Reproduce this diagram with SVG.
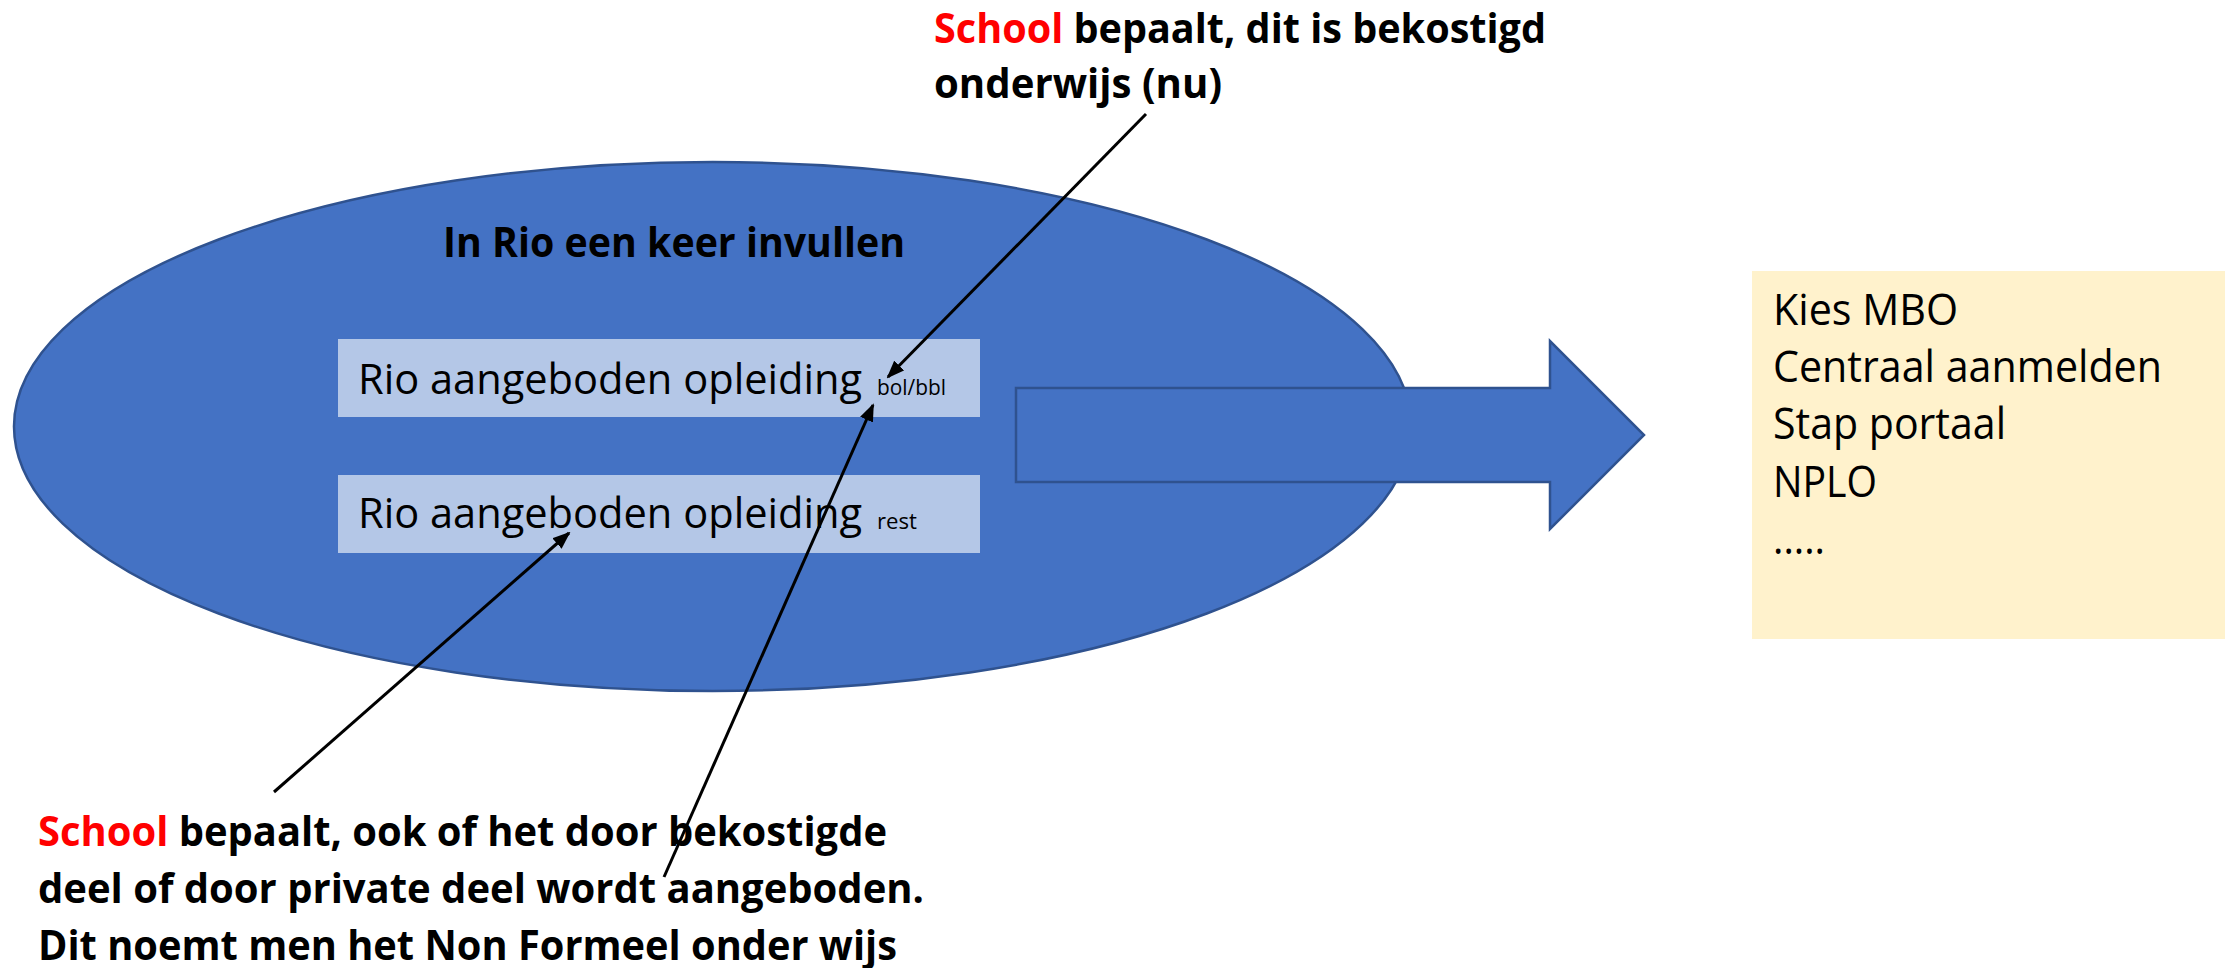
<svg xmlns="http://www.w3.org/2000/svg" width="2225" height="968" viewBox="0 0 2225 968">
<style>
.t{font-family:"Open Sans","Liberation Sans",sans-serif;fill:#000}
.b{font-weight:bold}
.red{fill:#FF0000}
.blue{fill:#4472C4;stroke:#2F528F;stroke-width:2.5}
.opt{fill:#B4C7E7}
.conn{stroke:#000;stroke-width:3;fill:none}
</style>
<defs>
<marker id="ah" markerUnits="userSpaceOnUse" viewBox="0 0 18 14" refX="16" refY="7" markerWidth="18" markerHeight="14" orient="auto">
<path d="M0,0 L18,7 L0,14 Z" fill="#000"/>
</marker>
</defs>
<rect width="2225" height="968" fill="#FFFFFF"/>
<g id="rio-ellipse">
<ellipse class="blue" cx="712.7" cy="426.5" rx="698.7" ry="264.5"/>
<text class="t b" x="443" y="257" font-size="42" textLength="462" lengthAdjust="spacingAndGlyphs">In Rio een keer invullen</text>
</g>
<g id="opleiding-bol-bbl">
<rect class="opt" x="338" y="339" width="642" height="78"/>
<text class="t" x="358" y="394" font-size="42" textLength="504" lengthAdjust="spacingAndGlyphs">Rio aangeboden opleiding</text>
<text class="t" x="877" y="395" font-size="21" textLength="69" lengthAdjust="spacingAndGlyphs">bol/bbl</text>
</g>
<g id="opleiding-rest">
<rect class="opt" x="338" y="475" width="642" height="78"/>
<text class="t" x="358" y="528" font-size="42" textLength="504" lengthAdjust="spacingAndGlyphs">Rio aangeboden opleiding</text>
<text class="t" x="877" y="529" font-size="21" textLength="40" lengthAdjust="spacingAndGlyphs">rest</text>
</g>
<g id="block-arrow">
<path class="blue" d="M1016,388 L1550,388 L1550,341 L1644,435 L1550,529 L1550,482 L1016,482 Z"/>
</g>
<g id="systemen">
<rect x="1752" y="271" width="473" height="368" fill="#FFF2CC"/>
<text class="t" x="1773" y="325" font-size="43" textLength="185" lengthAdjust="spacingAndGlyphs">Kies MBO</text>
<text class="t" x="1773" y="382" font-size="43" textLength="389" lengthAdjust="spacingAndGlyphs">Centraal aanmelden</text>
<text class="t" x="1773" y="439" font-size="43" textLength="233" lengthAdjust="spacingAndGlyphs">Stap portaal</text>
<text class="t" x="1773" y="497" font-size="43" textLength="104" lengthAdjust="spacingAndGlyphs">NPLO</text>
<text class="t" x="1773" y="554" font-size="43" textLength="52" lengthAdjust="spacingAndGlyphs">.....</text>
</g>
<g id="note-top">
<text class="t b" x="934" y="43" font-size="42" textLength="612" lengthAdjust="spacingAndGlyphs"><tspan class="red">School</tspan> bepaalt, dit is bekostigd</text>
<text class="t b" x="934" y="98" font-size="42" textLength="288" lengthAdjust="spacingAndGlyphs">onderwijs (nu)</text>
</g>
<g id="note-bottom">
<text class="t b" x="38" y="846" font-size="42" textLength="849" lengthAdjust="spacingAndGlyphs"><tspan class="red">School</tspan> bepaalt, ook of het door bekostigde</text>
<text class="t b" x="38" y="903" font-size="42" textLength="886" lengthAdjust="spacingAndGlyphs">deel of door private deel wordt aangeboden.</text>
<text class="t b" x="38" y="960" font-size="42" textLength="859" lengthAdjust="spacingAndGlyphs">Dit noemt men het Non Formeel onder wijs</text>
</g>
<g id="connectors">
<line class="conn" x1="1146" y1="114" x2="888" y2="377" marker-end="url(#ah)"/>
<line class="conn" x1="664" y1="877" x2="873" y2="405" marker-end="url(#ah)"/>
<line class="conn" x1="274" y1="792" x2="569" y2="533" marker-end="url(#ah)"/>
</g>
</svg>
